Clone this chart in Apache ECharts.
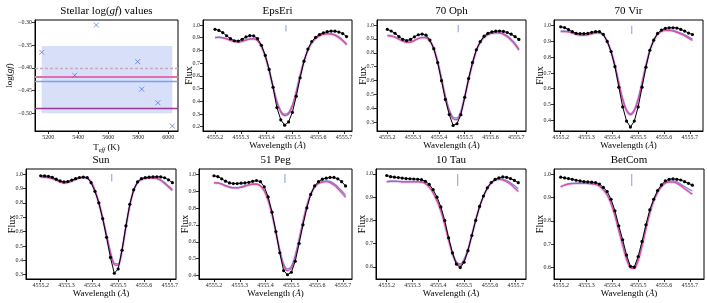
<!DOCTYPE html>
<html><head><meta charset="utf-8">
<script src="https://cdn.jsdelivr.net/npm/echarts@6/dist/echarts.min.js"></script>
<style>html,body{margin:0;padding:0;background:#fff}#c{width:707px;height:303px}</style>
</head><body><div id="c"></div>
<script>
// ---------- data ----------
const wl = [4555.200, 4555.215, 4555.230, 4555.245, 4555.260, 4555.275, 4555.290, 4555.305, 4555.320, 4555.335,
            4555.350, 4555.365, 4555.380, 4555.395, 4555.410, 4555.425, 4555.440, 4555.455, 4555.470, 4555.485,
            4555.500, 4555.515, 4555.530, 4555.545, 4555.560, 4555.575, 4555.590, 4555.605, 4555.620, 4555.635,
            4555.650, 4555.665, 4555.680, 4555.695, 4555.710];
const wlTicks = [4555.2, 4555.3, 4555.4, 4555.5, 4555.6, 4555.7];
const lineCentre = [4555.475];
const markFlux = [1.0, 0.948];

const starNames = ['EpsEri', '70 Oph', '70 Vir', 'Sun', '51 Peg', '10 Tau', 'BetCom'];

// top-left panel
const teff = [5156, 5376, 5520, 5796, 5823, 5931, 6027];
const loggf = [-0.366, -0.4165, -0.306, -0.3866, -0.447, -0.477, -0.528];
const loggfBand = [-0.352, -0.500];
const loggfDashed = [-0.400];
const loggfPink = [-0.422];
const loggfBlue = [-0.426];
const loggfPurple = [-0.488];
const teffTicks = [5200, 5400, 5600, 5800, 6000];
const loggfTicks = [-0.30, -0.35, -0.40, -0.45, -0.50];

const obsEpsEri  = [0.966,0.957,0.940,0.915,0.892,0.876,0.873,0.887,0.906,0.916,0.914,0.893,0.840,0.760,0.650,0.510,0.350,0.254,0.212,0.237,0.313,0.440,0.585,0.715,0.810,0.870,0.903,0.925,0.938,0.947,0.952,0.951,0.944,0.932,0.909];
const pinkEpsEri = [0.900,0.902,0.899,0.890,0.878,0.869,0.866,0.871,0.881,0.889,0.890,0.876,0.830,0.750,0.640,0.510,0.390,0.315,0.288,0.300,0.360,0.470,0.600,0.715,0.800,0.858,0.893,0.914,0.926,0.930,0.928,0.918,0.900,0.875,0.843];
const blueEpsEri = [0.902,0.904,0.901,0.892,0.880,0.871,0.868,0.873,0.883,0.891,0.892,0.878,0.833,0.755,0.647,0.518,0.400,0.325,0.298,0.310,0.370,0.478,0.606,0.720,0.804,0.862,0.897,0.918,0.930,0.934,0.933,0.924,0.907,0.883,0.852];

const obs70Oph  = [0.969,0.957,0.940,0.917,0.897,0.888,0.896,0.915,0.930,0.935,0.927,0.892,0.830,0.730,0.600,0.465,0.356,0.278,0.290,0.355,0.480,0.615,0.730,0.822,0.880,0.920,0.940,0.950,0.956,0.957,0.954,0.946,0.934,0.917,0.896];
const pink70Oph = [0.923,0.920,0.912,0.898,0.884,0.875,0.876,0.888,0.902,0.910,0.908,0.885,0.830,0.735,0.610,0.480,0.380,0.325,0.320,0.370,0.480,0.605,0.720,0.815,0.875,0.910,0.930,0.940,0.943,0.941,0.933,0.915,0.890,0.860,0.820];
const blue70Oph = [0.925,0.922,0.914,0.900,0.886,0.877,0.878,0.890,0.904,0.912,0.910,0.888,0.834,0.741,0.618,0.490,0.392,0.337,0.332,0.380,0.488,0.611,0.725,0.819,0.878,0.913,0.933,0.943,0.947,0.946,0.939,0.922,0.898,0.868,0.828];

const obs70Vir  = [0.993,0.988,0.975,0.962,0.951,0.949,0.949,0.951,0.958,0.962,0.962,0.945,0.900,0.836,0.740,0.610,0.485,0.395,0.357,0.395,0.485,0.610,0.737,0.844,0.908,0.951,0.972,0.983,0.987,0.987,0.985,0.976,0.966,0.953,0.944];
const pink70Vir = [0.963,0.963,0.960,0.953,0.945,0.940,0.939,0.942,0.948,0.954,0.954,0.940,0.900,0.835,0.745,0.635,0.530,0.460,0.435,0.460,0.530,0.635,0.745,0.840,0.905,0.945,0.963,0.970,0.970,0.966,0.958,0.947,0.935,0.921,0.907];
const blue70Vir = [0.965,0.965,0.962,0.955,0.947,0.942,0.941,0.944,0.950,0.956,0.956,0.942,0.903,0.839,0.750,0.641,0.538,0.468,0.443,0.468,0.538,0.641,0.750,0.844,0.908,0.947,0.966,0.973,0.974,0.971,0.963,0.953,0.942,0.929,0.915];

const obsSun  = [0.988,0.987,0.984,0.977,0.964,0.952,0.945,0.948,0.958,0.968,0.976,0.979,0.975,0.940,0.880,0.800,0.690,0.560,0.420,0.310,0.340,0.470,0.640,0.790,0.890,0.945,0.968,0.975,0.978,0.980,0.981,0.980,0.974,0.960,0.940];
const pinkSun = [0.980,0.978,0.975,0.968,0.957,0.945,0.938,0.940,0.950,0.962,0.972,0.976,0.972,0.945,0.885,0.800,0.690,0.570,0.450,0.370,0.365,0.470,0.630,0.780,0.885,0.940,0.962,0.970,0.972,0.972,0.968,0.955,0.935,0.910,0.885];
const blueSun = [0.981,0.979,0.976,0.969,0.958,0.946,0.939,0.941,0.951,0.963,0.973,0.977,0.973,0.947,0.888,0.805,0.696,0.578,0.460,0.380,0.375,0.478,0.636,0.784,0.888,0.942,0.964,0.972,0.975,0.975,0.972,0.960,0.941,0.917,0.893];

const obs51Peg  = [0.990,0.985,0.972,0.958,0.948,0.944,0.944,0.946,0.948,0.951,0.957,0.962,0.955,0.925,0.865,0.775,0.660,0.535,0.430,0.405,0.420,0.485,0.590,0.700,0.800,0.880,0.930,0.955,0.970,0.976,0.980,0.980,0.972,0.955,0.930];
const pink51Peg = [0.948,0.947,0.940,0.930,0.922,0.918,0.918,0.922,0.928,0.935,0.940,0.940,0.930,0.900,0.845,0.760,0.655,0.545,0.460,0.430,0.445,0.510,0.610,0.715,0.810,0.880,0.922,0.944,0.953,0.955,0.950,0.935,0.915,0.890,0.862];
const blue51Peg = [0.950,0.949,0.942,0.932,0.924,0.920,0.920,0.924,0.930,0.937,0.942,0.942,0.932,0.903,0.849,0.766,0.662,0.553,0.470,0.440,0.455,0.518,0.616,0.720,0.814,0.883,0.925,0.947,0.957,0.960,0.957,0.944,0.926,0.902,0.875];

const obs10Tau  = [0.993,0.988,0.986,0.984,0.982,0.980,0.979,0.978,0.977,0.975,0.968,0.955,0.932,0.900,0.858,0.800,0.725,0.660,0.612,0.597,0.620,0.670,0.735,0.800,0.860,0.905,0.940,0.963,0.976,0.983,0.987,0.985,0.980,0.972,0.962];
const pink10Tau = [0.966,0.968,0.968,0.967,0.966,0.966,0.966,0.966,0.966,0.965,0.958,0.943,0.918,0.884,0.840,0.782,0.715,0.655,0.617,0.607,0.627,0.672,0.735,0.800,0.858,0.903,0.937,0.960,0.972,0.976,0.974,0.966,0.955,0.940,0.924];
const blue10Tau = [0.967,0.969,0.969,0.968,0.967,0.967,0.967,0.967,0.967,0.966,0.959,0.944,0.920,0.886,0.843,0.786,0.720,0.661,0.623,0.613,0.633,0.677,0.739,0.803,0.860,0.905,0.939,0.962,0.974,0.979,0.977,0.971,0.962,0.950,0.936];

const obsBetCom  = [0.986,0.983,0.980,0.977,0.973,0.970,0.967,0.966,0.965,0.963,0.957,0.943,0.925,0.892,0.843,0.779,0.719,0.654,0.606,0.603,0.648,0.712,0.783,0.847,0.892,0.929,0.953,0.970,0.977,0.979,0.977,0.974,0.967,0.960,0.952];
const pinkBetCom = [0.945,0.952,0.957,0.959,0.960,0.960,0.960,0.959,0.958,0.955,0.948,0.932,0.910,0.873,0.822,0.758,0.695,0.635,0.600,0.597,0.630,0.692,0.765,0.832,0.883,0.920,0.945,0.960,0.965,0.965,0.960,0.950,0.937,0.925,0.913];
const blueBetCom = [0.946,0.953,0.958,0.960,0.961,0.961,0.961,0.960,0.959,0.956,0.949,0.934,0.912,0.876,0.826,0.763,0.701,0.641,0.606,0.603,0.636,0.697,0.769,0.835,0.886,0.923,0.948,0.963,0.969,0.970,0.966,0.957,0.946,0.936,0.927];

const yTicksEpsEri = [0.2,0.3,0.4,0.5,0.6,0.7,0.8,0.9,1.0];
const yTicks70Oph  = [0.3,0.4,0.5,0.6,0.7,0.8,0.9,1.0];
const yTicks70Vir  = [0.4,0.5,0.6,0.7,0.8,0.9,1.0];
const yTicksSun    = [0.3,0.4,0.5,0.6,0.7,0.8,0.9,1.0];
const yTicks51Peg  = [0.4,0.5,0.6,0.7,0.8,0.9,1.0];
const yTicks10Tau  = [0.6,0.7,0.8,0.9,1.0];
const yTicksBetCom = [0.6,0.7,0.8,0.9,1.0];

// ---------- layout / style ----------
const FONT = 'Liberation Serif';
const PINK = '#e4489b', BLUE = '#6f86e6', PURPLE = '#9b3494', BAND = 'rgba(170,145,230,0.30)';

const spec = [
  {name: starNames[0], obs: obsEpsEri, pink: pinkEpsEri, blue: blueEpsEri, yt: yTicksEpsEri, ylim: [0.166, 1.039], xlim: [4555.1535, 4555.731], box: [203, 20, 149, 111]},
  {name: starNames[1], obs: obs70Oph, pink: pink70Oph, blue: blue70Oph, yt: yTicks70Oph, ylim: [0.238, 1.036], xlim: [4555.160, 4555.7375], box: [377, 20, 149, 111]},
  {name: starNames[2], obs: obs70Vir, pink: pink70Vir, blue: blue70Vir, yt: yTicks70Vir, ylim: [0.332, 1.036], xlim: [4555.174, 4555.751], box: [554, 20, 149, 111]},
  {name: starNames[3], obs: obsSun, pink: pinkSun, blue: blueSun, yt: yTicksSun, ylim: [0.27, 1.035], xlim: [4555.143, 4555.724], box: [26, 169, 150, 110]},
  {name: starNames[4], obs: obs51Peg, pink: pink51Peg, blue: blue51Peg, yt: yTicks51Peg, ylim: [0.38, 1.03], xlim: [4555.142, 4555.735], box: [199, 169, 153, 110]},
  {name: starNames[5], obs: obs10Tau, pink: pink10Tau, blue: blue10Tau, yt: yTicks10Tau, ylim: [0.548, 1.021], xlim: [4555.1585, 4555.740], box: [376, 169, 150, 110]},
  {name: starNames[6], obs: obsBetCom, pink: pinkBetCom, blue: blueBetCom, yt: yTicksBetCom, ylim: [0.552, 1.021], xlim: [4555.174, 4555.755], box: [554, 169, 150, 110]}
];

const grids = [], xAxes = [], yAxes = [], series = [], graphics = [];

function tickStyle() {
  return {show: true, inside: false, length: 3, lineStyle: {color: '#000', width: 0.8}};
}
function addAxes(box, xr, xt, xfmt, yr, yt, yfmt, xname, yname, xgap, ygap, ysize) {
  const k = grids.length;
  grids.push({left: box[0], top: box[1], width: box[2], height: box[3], show: true,
              borderColor: '#000', borderWidth: 1, backgroundColor: 'transparent', containLabel: false});
  xAxes.push({type: 'value', gridIndex: k, min: xr[0], max: xr[1],
    axisLine: {show: true, onZero: false, lineStyle: {color: '#000', width: 1}},
    axisTick: Object.assign(tickStyle(), {customValues: xt}),
    axisLabel: {customValues: xt, formatter: xfmt, fontSize: 6, color: '#222', fontFamily: FONT, margin: 3},
    splitLine: {show: false},
    name: xname, nameLocation: 'middle', nameGap: xgap, nameMoveOverlap: false,
    nameTextStyle: {fontFamily: FONT, fontSize: 9, color: '#000',
      rich: {n: {fontFamily: FONT, fontSize: 9, color: '#000'},
             i: {fontFamily: FONT, fontSize: 9, color: '#000', fontStyle: 'italic'},
             s: {fontFamily: FONT, fontSize: 6.5, color: '#000', fontStyle: 'italic', padding: [6, 0, 0, 0]}}}
  });
  yAxes.push({type: 'value', gridIndex: k, min: yr[0], max: yr[1],
    axisLine: {show: true, onZero: false, lineStyle: {color: '#000', width: 1}},
    axisTick: Object.assign(tickStyle(), {customValues: yt}),
    axisLabel: {customValues: yt, formatter: yfmt, fontSize: 6, color: '#222', fontFamily: FONT, margin: 3},
    splitLine: {show: false},
    name: yname, nameLocation: 'middle', nameGap: ygap, nameRotate: 90, nameMoveOverlap: false,
    nameTextStyle: {fontFamily: FONT, fontSize: ysize, color: '#000',
      rich: {n: {fontFamily: FONT, fontSize: ysize, color: '#000'},
             i: {fontFamily: FONT, fontSize: ysize, color: '#000', fontStyle: 'italic'}}}
  });
  return k;
}
function title(x, y, text, rich) {
  graphics.push({type: 'text', x: x, y: y, z: 100,
    style: {text: text, fill: '#000', font: '11px "' + FONT + '"', fontFamily: FONT, fontSize: 11,
            align: 'center', verticalAlign: 'middle', textAlign: 'center', textVerticalAlign: 'middle', rich: rich}});
}

// ---- panel 1: log(gf) vs Teff ----
const minus = v => (v < 0 ? '\u2212' : '') + Math.abs(v).toFixed(2);
const k0 = addAxes([35, 20, 143, 111], [5111, 6065], teffTicks, v => String(v),
  [-0.539, -0.295], loggfTicks, minus, '{n|T}{s|eff}{n| (K)}', '{n|log(}{i|gf}{n|)}', 10, 21, 9);
series.push({type: 'scatter', xAxisIndex: k0, yAxisIndex: k0, z: 5,
  data: teff.map((t, i) => [t, loggf[i]]),
  symbol: 'path://M0,0L10,10M10,0L0,10', symbolSize: 5,
  itemStyle: {color: 'rgba(0,0,0,0)', borderColor: '#4a6fe0', borderWidth: 0.9},
  markArea: {silent: true, itemStyle: {color: 'rgba(110,140,232,0.28)'},
    data: [[{coord: [Math.min(...teff), loggfBand[0]]}, {coord: [Math.max(...teff), loggfBand[1]]}]]},
  markLine: {silent: true, symbol: 'none', label: {show: false},
    data: [
      {yAxis: loggfDashed[0], lineStyle: {color: '#d3a5bb', width: 1.3, type: [3, 2]}},
      {yAxis: loggfPink[0], lineStyle: {color: '#e26fb0', width: 2, type: 'solid'}},
      {yAxis: loggfBlue[0], lineStyle: {color: '#7d9ff0', width: 1.3, type: 'solid'}},
      {yAxis: loggfPurple[0], lineStyle: {color: PURPLE, width: 1.4, type: 'solid'}}
    ]}
});
title(35 + 143 / 2, 11, '{n|Stellar log(}{i|gf}{n|) values}',
  {n: {fontFamily: FONT, fontSize: 11, color: '#000'}, i: {fontFamily: FONT, fontSize: 11, fontStyle: 'italic', color: '#000'}});

// ---- spectra panels ----
spec.forEach(p => {
  const k = addAxes(p.box, p.xlim, wlTicks, v => v.toFixed(1), p.ylim, p.yt, v => v.toFixed(1),
    '{n|Wavelength (}{i|\u00c5}{n|)}', 'Flux', 10, 9, 10);
  const base = {type: 'line', xAxisIndex: k, yAxisIndex: k, symbol: 'none', silent: true, animation: false};
  series.push(Object.assign({}, base, {data: wl.map((w, i) => [w, p.pink[i]]), smooth: 0.3,
    lineStyle: {color: BAND, width: 3.2}, z: 1}));
  series.push(Object.assign({}, base, {data: wl.map((w, i) => [w, p.blue[i]]), smooth: 0.3,
    lineStyle: {color: BLUE, width: 1.2}, z: 2}));
  series.push(Object.assign({}, base, {data: wl.map((w, i) => [w, p.pink[i]]), smooth: 0.3,
    lineStyle: {color: PINK, width: 1.3}, z: 3}));
  series.push(Object.assign({}, base, {data: wl.map((w, i) => [w, p.obs[i]]),
    symbol: 'circle', symbolSize: 3.2, itemStyle: {color: '#000'},
    lineStyle: {color: '#000', width: 1}, z: 4}));
  series.push(Object.assign({}, base, {data: markFlux.map(f => [lineCentre[0], f]),
    lineStyle: {color: '#9aaee6', width: 1.2}, z: 5}));
  title(p.box[0] + p.box[2] / 2, p.box[1] - 9, p.name, null);
});

const chart = echarts.init(document.getElementById('c'), null, {renderer: 'canvas'});
chart.setOption({
  animation: false,
  backgroundColor: '#fff',
  grid: grids, xAxis: xAxes, yAxis: yAxes, series: series, graphic: graphics
});
</script></body></html>
